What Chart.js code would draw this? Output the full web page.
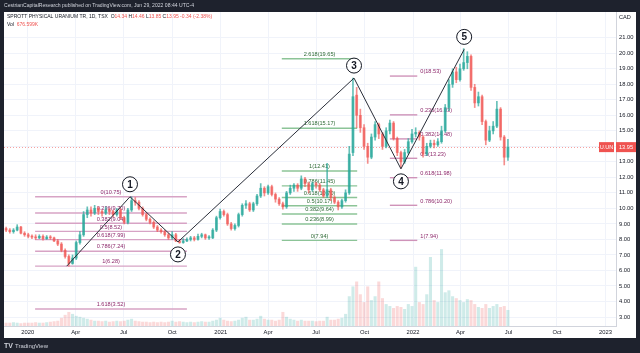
<!DOCTYPE html>
<html>
<head>
<meta charset="utf-8">
<script src="https://cdn.jsdelivr.net/npm/chart.js@4.4.1/dist/chart.umd.min.js"></script>
<style>
  html, body { margin: 0; padding: 0; background: #1e222d; }
  #wrap { width: 640px; height: 353px; }
</style>
</head>
<body>
<div id="wrap"><canvas id="chart" width="640" height="353"></canvas></div>
<script>
// weekly candles, first one in the week of 2019-11-21
const firstWeek = "2019-11-21";
const opens = [
  8.7, 8.6, 8.5, 8.6, 8.8, 8.4, 8.3, 8.2, 8.15, 8.1,
  8.2, 8.05, 8.15, 8.1, 7.9, 7.7, 7.3, 6.9, 6.45, 6.8,
  7.8, 8.3, 9.6, 9.9, 9.7, 10.0, 9.8, 9.7, 9.9, 9.8,
  9.6, 9.9, 9.4, 9.1, 9.9, 10.5, 10.4, 10.0, 9.6, 9.3,
  9.1, 8.8, 8.6, 8.5, 8.3, 8.1, 8.3, 7.9, 7.8, 7.9,
  8.0, 8.1, 8.0, 8.2, 8.3, 8.1, 8.1, 8.6, 9.4, 9.8,
  9.6, 9.0, 8.7, 8.9, 9.6, 10.2, 10.3, 9.9, 10.3, 10.8,
  11.3, 11.0, 11.4, 10.9, 10.6, 10.3, 10.1, 11.0, 11.3, 11.5,
  11.3, 11.9, 11.6, 11.2, 11.6, 11.5, 11.2, 10.8, 11.2, 10.7,
  10.4, 10.1, 10.5, 11.0, 13.6, 17.3, 16.0, 15.2, 14.0, 13.3,
  14.6, 15.4, 14.8, 14.0, 15.0, 15.5, 14.5, 13.6, 13.0, 13.6,
  14.3, 14.8, 14.9, 14.6, 13.5, 14.0, 14.2, 14.1, 14.3, 15.0,
  16.5, 18.0, 18.8, 18.3, 19.0, 19.4, 19.8, 17.8, 16.8, 17.2,
  15.6, 14.4, 15.0, 15.3, 16.4, 14.6, 13.3
];
const highs = [
  8.8, 8.7, 8.7, 8.95, 8.85, 8.5, 8.4, 8.3, 8.3, 8.3,
  8.3, 8.25, 8.25, 8.15, 8.0, 7.8, 7.4, 7.0, 7.0, 7.9,
  8.5, 9.8, 10.1, 10.1, 10.2, 10.1, 9.9, 10.1, 10.0, 9.9,
  10.0, 10.0, 9.5, 10.0, 10.75, 10.7, 10.5, 10.1, 9.7, 9.4,
  9.2, 8.9, 8.7, 8.6, 8.4, 8.5, 8.4, 8.0, 8.05, 8.1,
  8.2, 8.2, 8.35, 8.4, 8.35, 8.25, 8.7, 9.5, 9.95, 9.9,
  9.7, 9.1, 9.0, 9.7, 10.3, 10.5, 10.4, 10.4, 10.9, 11.6,
  11.4, 11.5, 11.5, 11.0, 10.7, 10.4, 11.1, 11.5, 11.6, 11.6,
  12.1, 12.0, 11.7, 11.7, 11.7, 11.6, 11.3, 12.9, 11.3, 10.8,
  10.5, 10.6, 11.2, 14.0, 18.4, 17.8, 16.4, 15.4, 14.2, 14.8,
  15.6, 15.5, 14.9, 15.2, 15.7, 15.6, 14.6, 13.7, 13.8, 14.5,
  15.1, 15.2, 15.0, 14.7, 14.2, 14.4, 14.4, 14.5, 15.3, 16.7,
  18.3, 19.0, 19.1, 19.3, 20.3, 20.1, 19.9, 18.0, 17.5, 17.3,
  15.7, 15.3, 15.6, 16.9, 16.5, 14.7, 14.46
];
const lows = [
  8.5, 8.4, 8.4, 8.55, 8.35, 8.2, 8.1, 8.05, 8.0, 8.05,
  7.95, 8.0, 8.0, 7.85, 7.6, 7.2, 6.8, 6.28, 6.4, 6.7,
  7.7, 8.2, 9.4, 9.5, 9.6, 9.6, 9.5, 9.6, 9.6, 9.45,
  9.5, 9.3, 9.0, 9.0, 9.8, 10.2, 9.9, 9.5, 9.2, 9.0,
  8.7, 8.5, 8.4, 8.2, 8.0, 8.0, 7.85, 7.75, 7.75, 7.85,
  7.9, 7.9, 7.95, 8.1, 8.0, 8.0, 8.05, 8.5, 9.3, 9.5,
  8.9, 8.6, 8.6, 8.8, 9.5, 10.0, 9.8, 9.8, 10.2, 10.7,
  10.8, 10.9, 10.8, 10.4, 10.2, 9.95, 10.0, 10.9, 11.1, 11.1,
  11.2, 11.4, 11.0, 11.1, 11.3, 11.1, 10.7, 10.7, 10.5, 10.3,
  9.9, 10.0, 10.4, 10.9, 13.4, 15.2, 14.9, 13.8, 12.9, 13.2,
  14.4, 14.5, 13.8, 13.9, 14.8, 14.4, 13.4, 12.6, 12.9, 13.5,
  14.2, 14.6, 14.4, 13.3, 13.4, 13.9, 13.9, 14.0, 14.2, 14.9,
  16.3, 17.8, 18.1, 18.2, 18.9, 19.0, 17.6, 16.5, 16.6, 15.4,
  14.1, 14.3, 14.8, 15.2, 14.4, 12.8, 13.1
];
const closes = [
  8.6, 8.5, 8.6, 8.8, 8.4, 8.3, 8.2, 8.15, 8.1, 8.2,
  8.05, 8.15, 8.1, 7.9, 7.7, 7.3, 6.9, 6.45, 6.8, 7.8,
  8.3, 9.6, 9.9, 9.7, 10.0, 9.8, 9.7, 9.9, 9.8, 9.6,
  9.9, 9.4, 9.1, 9.9, 10.5, 10.4, 10.0, 9.6, 9.3, 9.1,
  8.8, 8.6, 8.5, 8.3, 8.1, 8.3, 7.9, 7.8, 7.9, 8.0,
  8.1, 8.0, 8.2, 8.3, 8.1, 8.1, 8.6, 9.4, 9.8, 9.6,
  9.0, 8.7, 8.9, 9.6, 10.2, 10.3, 9.9, 10.3, 10.8, 11.3,
  11.0, 11.4, 10.9, 10.6, 10.3, 10.1, 11.0, 11.3, 11.5, 11.3,
  11.9, 11.6, 11.2, 11.6, 11.5, 11.2, 10.8, 11.2, 10.7, 10.4,
  10.1, 10.5, 11.0, 13.5, 17.2, 16.0, 15.2, 14.0, 13.3, 14.6,
  15.4, 14.8, 14.0, 15.0, 15.5, 14.5, 13.6, 13.0, 13.6, 14.3,
  14.8, 14.9, 14.6, 13.5, 14.0, 14.2, 14.1, 14.3, 15.0, 16.5,
  18.0, 18.8, 18.3, 19.0, 19.4, 19.8, 17.8, 16.8, 17.2, 15.6,
  14.4, 15.0, 15.3, 16.4, 14.6, 13.3, 13.95
];
// volume, millions (weekly, spikes kept)
const volumes = [
  0.3, 0.3, 0.35, 0.3, 0.25, 0.3, 0.3, 0.3, 0.35, 0.3,
  0.3, 0.35, 0.4, 0.45, 0.5, 0.8, 1.1, 1.4, 1.2, 1.0,
  0.9, 0.8, 0.7, 0.6, 0.5, 0.5, 0.45, 0.5, 0.4, 0.45,
  0.5, 0.45, 0.5, 0.6, 0.7, 0.5, 0.45, 0.4, 0.4, 0.35,
  0.4, 0.35, 0.4, 0.35, 0.4, 0.5, 0.4, 0.45, 0.4, 0.35,
  0.4, 0.35, 0.4, 0.45, 0.4, 0.4, 0.5, 0.6, 0.8, 0.6,
  0.5, 0.45, 0.5, 0.6, 0.8, 0.9, 0.6, 0.6, 0.7, 1.0,
  0.7, 0.6, 0.6, 0.5, 0.6, 1.4, 0.9, 0.7, 0.6, 0.5,
  0.6, 0.5, 0.5, 0.5, 0.45, 0.5, 0.5, 0.9, 0.6, 0.6,
  0.7, 0.8, 1.2, 3.0, 4.0, 4.5, 3.2, 2.4, 4.0, 2.6,
  3.0, 4.5, 2.8, 2.2, 2.0, 1.8, 2.0, 1.9, 1.7, 2.2,
  2.0, 6.0, 2.4, 2.2, 3.2, 7.0, 2.6, 2.4, 7.8, 3.4,
  3.6, 3.0, 2.8, 2.6, 2.4, 2.7, 2.6, 2.2, 1.9, 1.8,
  2.2, 1.8, 2.0, 2.2, 1.9, 2.0, 1.6
];

// elliott wave pivots
const waveDates = ["2020-03-15", "2020-07-13", "2020-10-12", "2021-09-11", "2021-12-09", "2022-04-08"];
const wavePrices = [6.28, 10.75, 7.84, 18.4, 12.55, 20.25];
const waveLabels = ["", "1", "2", "3", "4", "5"];

// fib drawings
const fibARatios = [0, 0.236, 0.382, 0.5, 0.618, 0.786, 1, 1.618];
const fibAPrices = [10.75, 9.70, 9.04, 8.52, 7.99, 7.24, 6.28, 3.52];
const fibASpan = ["2020-01-15", "2020-10-29"];
const fibBRatios = [0, 0.236, 0.382, 0.5, 0.618, 0.786, 1, 1.618, 2.618];
const fibBPrices = [7.94, 8.99, 9.64, 10.17, 10.70, 11.45, 12.41, 15.17, 19.65];
const fibBSpan = ["2021-04-27", "2021-09-17"];
const fibCRatios = [0, 0.236, 0.382, 0.5, 0.618, 0.786, 1];
const fibCPrices = [18.53, 16.03, 14.48, 13.23, 11.98, 10.20, 7.94];
const fibCSpan = ["2021-11-18", "2022-01-09"];

const xTickDates = ["2020-01-01", "2020-04-01", "2020-07-01", "2020-10-01", "2021-01-01", "2021-04-01", "2021-07-01",
  "2021-10-01", "2022-01-01", "2022-04-01", "2022-07-01", "2022-10-01", "2023-01-01"];
const xTickLabels = ["2020", "Apr", "Jul", "Oct", "2021", "Apr", "Jul", "Oct", "2022", "Apr", "Jul", "Oct", "2023"];
const priceTicks = [21, 20, 19, 18, 17, 16, 15, 14, 13, 12, 11, 10, 9, 8, 7, 6, 5, 4, 3];
const lastPrice = 13.95;

const FONT = "'Liberation Sans', Arial, sans-serif";
const UP = "rgba(38,166,154,0.7)", DOWN = "rgba(239,83,80,0.65)";

function dayOf(s) {
  return (Date.parse(s) - Date.parse("2020-01-01")) / 86400000;
}
const week0 = dayOf(firstWeek);
const weekDays = closes.map((_, i) => week0 + 7 * i);
const candleColors = closes.map((c, i) => c >= opens[i] ? UP : DOWN);
const volColors = closes.map((c, i) => c >= opens[i] ? "rgba(38,166,154,0.22)" : "rgba(239,83,80,0.22)");

function fibSets(prices, span, color) {
  return prices.map(p => ({
    type: "line",
    data: [{ x: dayOf(span[0]), y: p }, { x: dayOf(span[1]), y: p }],
    borderColor: color,
    borderWidth: 1.4,
    pointRadius: 0,
    yAxisID: "y",
    order: 4
  }));
}

const datasets = [
  {
    type: "bar",
    data: weekDays.map((d, i) => ({ x: d, y: volumes[i] })),
    backgroundColor: volColors,
    barThickness: 2.4,
    grouped: false,
    yAxisID: "yv",
    order: 6
  },
  ...fibSets(fibAPrices, fibASpan, "#d7a3c5"),
  ...fibSets(fibBPrices, fibBSpan, "#8cc497"),
  ...fibSets(fibCPrices, fibCSpan, "#cf93b9"),
  {
    type: "bar",
    data: weekDays.map((d, i) => ({ x: d, y: [lows[i], highs[i]] })),
    backgroundColor: candleColors,
    barThickness: 1,
    grouped: false,
    yAxisID: "y",
    order: 3
  },
  {
    type: "bar",
    data: weekDays.map((d, i) => ({ x: d, y: [opens[i], closes[i]] })),
    backgroundColor: candleColors,
    barThickness: 2.2,
    minBarLength: 1,
    grouped: false,
    yAxisID: "y",
    order: 2
  },
  {
    type: "line",
    data: waveDates.map((d, i) => ({ x: dayOf(d), y: wavePrices[i] })),
    borderColor: "#2a2e39",
    borderWidth: 1,
    pointRadius: 0,
    tension: 0,
    yAxisID: "y",
    order: 1
  }
];

function fibLabels(c, chart, ratios, prices, span, color, beside) {
  const xs = chart.scales.x, ys = chart.scales.y;
  const x0 = xs.getPixelForValue(dayOf(span[0])), x1 = xs.getPixelForValue(dayOf(span[1]));
  c.fillStyle = color;
  c.font = "5.6px " + FONT;
  c.textBaseline = "bottom";
  c.textAlign = beside ? "left" : "center";
  prices.forEach((p, i) => {
    const y = ys.getPixelForValue(p);
    const t = ratios[i] + "(" + p.toFixed(2) + ")";
    c.fillText(t, beside ? x1 + 3 : (x0 + x1) / 2, y - 1.5);
  });
}

function runs(c, x, y, parts) {
  parts.forEach(([t, col]) => {
    c.fillStyle = col;
    c.fillText(t, x, y);
    x += c.measureText(t).width;
  });
}

const overlay = {
  id: "overlay",
  beforeDraw(chart) {
    const c = chart.ctx;
    c.save();
    c.fillStyle = "#1e222d";
    c.fillRect(0, 0, 640, 353);
    c.fillStyle = "#ffffff";
    c.fillRect(4, 12, 632, 326);
    c.restore();
  },
  beforeDatasetsDraw(chart) {
    const c = chart.ctx, a = chart.chartArea;
    c.save();
    fibLabels(c, chart, fibARatios, fibAPrices, fibASpan, "#8e2a6c", false);
    fibLabels(c, chart, fibBRatios, fibBPrices, fibBSpan, "#2f6b36", false);
    fibLabels(c, chart, fibCRatios, fibCPrices, fibCSpan, "#8e2a6c", true);
    const y = chart.scales.y.getPixelForValue(lastPrice);
    c.strokeStyle = "rgba(239,83,80,0.55)";
    c.lineWidth = 1;
    c.setLineDash([1, 2]);
    c.beginPath();
    c.moveTo(a.left, Math.round(y) + 0.5);
    c.lineTo(a.right, Math.round(y) + 0.5);
    c.stroke();
    c.restore();
  },
  afterDatasetsDraw(chart) {
    const c = chart.ctx, xs = chart.scales.x, ys = chart.scales.y;
    c.save();
    waveDates.forEach((d, i) => {
      if (!waveLabels[i]) return;
      const px = xs.getPixelForValue(dayOf(d));
      const py = ys.getPixelForValue(wavePrices[i]) + (i % 2 ? -12.5 : 12.5);
      c.beginPath();
      c.arc(px, py, 7.5, 0, Math.PI * 2);
      c.fillStyle = "#ffffff";
      c.fill();
      c.strokeStyle = "#131722";
      c.lineWidth = 1;
      c.stroke();
      c.fillStyle = "#131722";
      c.font = "bold 10px " + FONT;
      c.textAlign = "center";
      c.textBaseline = "middle";
      c.fillText(waveLabels[i], px, py + 0.5);
    });
    c.restore();
  },
  afterDraw(chart) {
    const c = chart.ctx, a = chart.chartArea;
    c.save();
    c.textBaseline = "middle";
    c.textAlign = "left";
    c.font = "5.1px " + FONT;
    c.fillStyle = "#d1d4dc";
    c.fillText("CestrianCapitalResearch published on TradingView.com, Jun 29, 2022 08:44 UTC-4", 4, 6);

    const red = "#ef5350", dark = "#131722";
    c.font = "5px " + FONT;
    runs(c, 7, 17, [["SPROTT PHYSICAL URANIUM TR, 1D, TSX  ", dark], ["O", dark], ["14.34", red], [" H", dark], ["14.46", red],
      [" L", dark], ["13.85", red], [" C", dark], ["13.95", red], [" -0.34 (-2.38%)", red]]);
    runs(c, 7, 24.5, [["Vol  ", dark], ["676.599K", red]]);

    c.font = "5.6px " + FONT;
    c.fillStyle = dark;
    c.fillText("CAD", 619, 17);

    const y = chart.scales.y.getPixelForValue(lastPrice);
    c.fillStyle = red;
    c.fillRect(599, y - 5, 15, 10);
    c.fillRect(a.right, y - 5, 20, 10);
    c.fillStyle = "#ffffff";
    c.textAlign = "center";
    c.fillText("U.UN", 606.5, y);
    c.fillText(lastPrice.toFixed(2), a.right + 10, y);

    c.textAlign = "left";
    c.fillStyle = "#d1d4dc";
    c.font = "bold 7px " + FONT;
    c.fillText("TV", 4, 346);
    c.font = "6px " + FONT;
    c.fillText("TradingView", 15, 346);
    c.restore();
  }
};

new Chart(document.getElementById("chart"), {
  type: "bar",
  data: { datasets },
  options: {
    responsive: false,
    animation: false,
    events: [],
    layout: { padding: { left: 4, top: 12, right: 4, bottom: 15 } },
    plugins: { legend: { display: false }, tooltip: { enabled: false } },
    scales: {
      x: {
        type: "linear",
        min: -45,
        max: 1116,
        offset: false,
        afterBuildTicks: s => { s.ticks = xTickDates.map(d => ({ value: dayOf(d) })); },
        afterFit: s => { s.height = 12; },
        grid: { color: "#f0f3fa", drawTicks: false, offset: false },
        border: { color: "#d1d4dc" },
        ticks: {
          padding: 3,
          maxRotation: 0,
          autoSkip: false,
          color: "#131722",
          font: { size: 5.8, family: FONT },
          callback: (v, i) => xTickLabels[i]
        }
      },
      y: {
        type: "linear",
        position: "right",
        min: 2.42,
        max: 22.66,
        afterBuildTicks: s => { s.ticks = priceTicks.map(v => ({ value: v })); },
        afterFit: s => { s.width = 20; },
        grid: { color: "#f0f3fa", drawTicks: false },
        border: { color: "#d1d4dc" },
        ticks: {
          padding: 3,
          color: "#131722",
          font: { size: 5.8, family: FONT },
          callback: v => v.toFixed(2)
        }
      },
      yv: {
        type: "linear",
        display: false,
        min: 0,
        max: 32
      }
    }
  },
  plugins: [overlay]
});
</script>
</body>
</html>
